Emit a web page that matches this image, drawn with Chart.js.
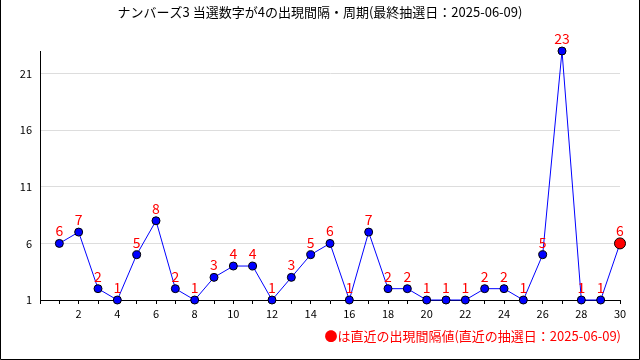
<!DOCTYPE html>
<html><head><meta charset="utf-8">
<script src="https://cdn.jsdelivr.net/npm/chart.js@4/dist/chart.umd.min.js"></script>
<style>html,body{margin:0;padding:0;background:#fff}#wrap{width:640px;height:360px;position:relative}</style>
</head><body><div id="wrap"><canvas id="c" width="640" height="360"></canvas></div>
<script>
const titleText = "ナンバーズ3 当選数字が4の出現間隔・周期(最終抽選日：2025-06-09)";
const noteText = "●は直近の出現間隔値(直近の抽選日：2025-06-09)";
const draws = [1,2,3,4,5,6,7,8,9,10,11,12,13,14,15,16,17,18,19,20,21,22,23,24,25,26,27,28,29,30];
const intervals = [6,7,2,1,5,8,2,1,3,4,4,1,3,5,6,1,7,2,2,1,1,1,2,2,1,5,23,1,1,6];
const yTicks = [1,6,11,16,21];
const FONT = "'Noto Sans CJK JP', 'Noto Sans', sans-serif";

const pts = draws.map((x,i)=>({x:x,y:intervals[i]}));
const last = intervals.length-1;

const deco = {
  id:'deco',
  afterDatasetsDraw(chart){
    const ctx = chart.ctx;
    const meta = chart.getDatasetMeta(0);
    ctx.save();
    ctx.fillStyle = '#ff0000';
    ctx.font = '14px ' + FONT;
    ctx.textAlign = 'center';
    ctx.textBaseline = 'alphabetic';
    meta.data.forEach((el,i)=>{
      ctx.fillText(String(intervals[i]), el.x, el.y - 7);
    });
    ctx.restore();
  },
  afterDraw(chart){
    const ctx = chart.ctx;
    ctx.save();
    ctx.fillStyle = '#000';
    ctx.font = '13px ' + FONT;
    ctx.textAlign = 'center';
    ctx.textBaseline = 'middle';
    ctx.fillText(titleText, 320, 12);
    ctx.fillStyle = '#ff0000';
    ctx.textAlign = 'right';
    ctx.fillText(noteText, 621, 336);
    ctx.strokeStyle = '#000';
    ctx.lineWidth = 1;
    ctx.beginPath();
    ctx.moveTo(0.5,0); ctx.lineTo(0.5,359.5); ctx.lineTo(639.5,359.5); ctx.lineTo(639.5,0);
    ctx.stroke();
    ctx.restore();
  }
};

new Chart(document.getElementById('c'), {
  type:'line',
  data:{datasets:[{
    data: pts,
    borderColor:'#0000ff',
    borderWidth:1,
    tension:0,
    clip:false,
    pointBackgroundColor: pts.map((p,i)=> i===last ? '#ff0000' : '#0000ff'),
    pointBorderColor:'#000',
    pointBorderWidth:1,
    pointRadius: pts.map((p,i)=> i===last ? 5.5 : 4),
    pointHoverRadius: pts.map((p,i)=> i===last ? 5.5 : 4)
  }]},
  options:{
    responsive:false,
    animation:false,
    events:[],
    layout:{padding:{left:0,right:20,top:51,bottom:30}},
    plugins:{legend:{display:false},tooltip:{enabled:false},title:{display:false}},
    scales:{
      x:{
        type:'linear', min:0, max:30,
        afterFit(s){ s.height = 30; },
        grid:{drawOnChartArea:false, drawTicks:true, tickLength:4, color:'#000'},
        border:{color:'#000', width:1},
        ticks:{stepSize:1, autoSkip:false, maxRotation:0, color:'#000', padding:3,
          font:{family:FONT, size:11},
          callback:(v)=> (v>0 && v%2===0) ? String(v) : ''}
      },
      y:{
        type:'linear', min:1, max:23,
        afterFit(s){ s.width = 40; },
        afterBuildTicks(s){ s.ticks = yTicks.map(v=>({value:v})); },
        grid:{color:'#dddddd', drawTicks:false},
        border:{color:'#000', width:1},
        ticks:{color:'#000', padding:8, font:{family:FONT, size:11}}
      }
    }
  },
  plugins:[deco]
});
</script></body></html>
